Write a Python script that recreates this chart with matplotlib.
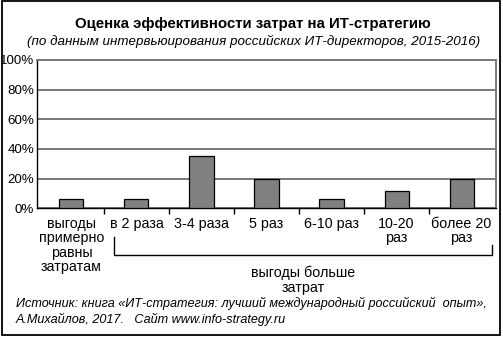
import numpy as np
import matplotlib
matplotlib.use("Agg")
import matplotlib.pyplot as plt
from matplotlib.lines import Line2D
from matplotlib.patches import Rectangle

plt.rcParams['font.family'] = ['Liberation Sans', 'DejaVu Sans']

categories = ["выгоды\nпримерно\nравны\nзатратам", "в 2 раза", "3-4 раза",
              "5 раз", "6-10 раз", "10-20\nраз", "более 20\nраз"]
shares = [6, 6, 35, 20, 6, 12, 20]
y_ticks = [0, 20, 40, 60, 80, 100]

W, H = 503, 337
fig = plt.figure(figsize=(W / 100, H / 100), dpi=100)

def fx(px):
    return px / W

def fy(py):
    return 1 - py / H

ax = fig.add_axes([fx(37), fy(208.3), fx(496) - fx(37), fy(60) - fy(208.3)])

x = np.arange(len(categories))
ax.bar(x, shares, width=0.37, color="#808080", edgecolor="black", linewidth=0.9, zorder=3)

ax.set_xlim(-0.53, len(categories) - 0.47)
ax.set_ylim(0, 100)
ax.set_yticks(y_ticks)
ax.set_yticklabels([f"{v}%" for v in y_ticks], fontsize=9.6)
ax.tick_params(axis="y", length=0, pad=2)
ax.yaxis.grid(True, color="#7a7a7a", linewidth=1.4, zorder=0)

# category boundaries get tick marks, labels sit under the bars
ax.set_xticks(x[:-1] + 0.5)
ax.set_xticklabels([])
ax.tick_params(axis="x", which="major", length=4, width=1, direction="out", color="black")
ax.set_xticks(x, minor=True)
ax.set_xticklabels(categories, minor=True, fontsize=10.3, linespacing=1.05, va="top")
ax.tick_params(axis="x", which="minor", length=0, pad=6)

for side in ("left", "bottom"):
    ax.spines[side].set_color("black")
    ax.spines[side].set_linewidth(1)
for side in ("top", "right"):
    ax.spines[side].set_color("#7a7a7a")
    ax.spines[side].set_linewidth(1.4)

fig.text(fx(253), fy(24), "Оценка эффективности затрат на ИТ-стратегию",
         ha="center", va="center", fontsize=10.8, fontweight="bold")
fig.text(fx(254), fy(41), "(по данным интервьюирования российских ИТ-директоров, 2015-2016)",
         ha="center", va="center", fontsize=9.6, style="italic")

# bracket grouping the "more than costs" categories
fig.add_artist(Line2D([fx(114), fx(114), fx(492), fx(492)],
                      [fy(237), fy(255), fy(255), fy(245)],
                      color="black", linewidth=1))
fig.text(fx(303), fy(280.5), "выгоды больше\nзатрат", ha="center", va="center",
         fontsize=10.3, linespacing=1.05)

fig.text(fx(16), fy(303), "Источник: книга «ИТ-стратегия: лучший международный российский  опыт»,",
         ha="left", va="center", fontsize=9.1, style="italic")
fig.text(fx(16), fy(319), "А.Михайлов, 2017.   Сайт www.info-strategy.ru",
         ha="left", va="center", fontsize=9.1, style="italic")

fig.add_artist(Rectangle((fx(2), fy(335)), fx(500) - fx(2), fy(1) - fy(335),
                         fill=False, edgecolor="black", linewidth=1.3))

fig.savefig("out.png", dpi=100)
